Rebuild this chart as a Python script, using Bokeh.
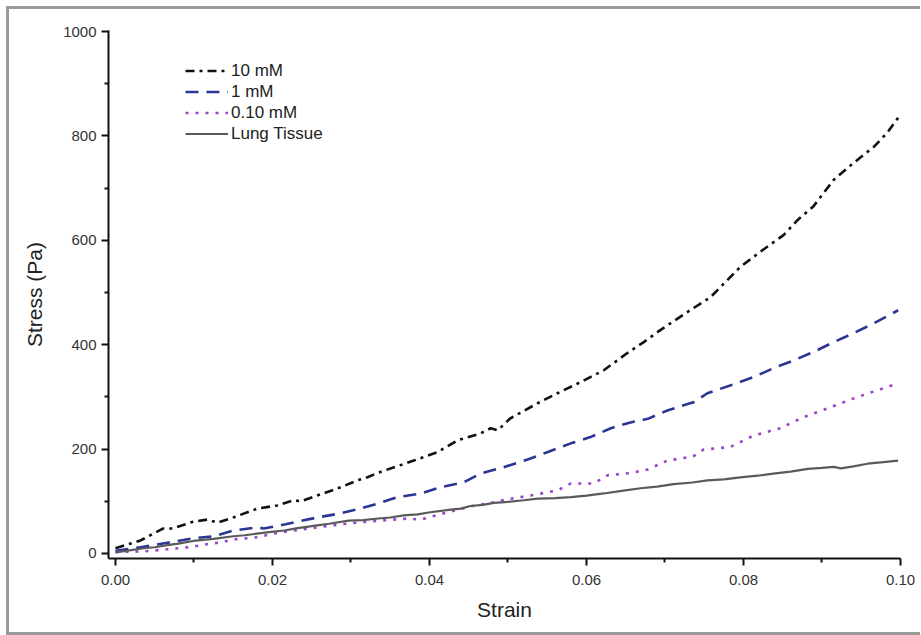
from bokeh.plotting import figure
from bokeh.models import Range1d, FixedTicker, Legend, LegendItem, NumeralTickFormatter
from bokeh.embed import file_html
from bokeh.resources import INLINE

# ---- data ----
strain_10mM = [0.0, 0.0032, 0.0061, 0.0073, 0.0099, 0.0117, 0.0130, 0.0150, 0.0181, 0.0206,
               0.0227, 0.0236, 0.0257, 0.0287, 0.0308, 0.0321, 0.0335, 0.0380, 0.0410, 0.0436,
               0.0465, 0.0478, 0.0487, 0.0503, 0.0538, 0.0563, 0.0592, 0.0622, 0.0652, 0.0673,
               0.0694, 0.0732, 0.0758, 0.0771, 0.0796, 0.0825, 0.0851, 0.0869, 0.0889, 0.0915,
               0.0940, 0.0966, 0.0983, 0.1000]
stress_10mM = [10, 25, 48, 48, 61, 65, 59, 69, 86, 92,
               102, 100, 111, 127, 140, 146, 155, 178, 194, 217,
               230, 240, 236, 259, 288, 307, 328, 351, 384, 405,
               428, 466, 491, 511, 549, 582, 610, 639, 665, 716,
               748, 779, 806, 841]

strain_1mM = [0.0, 0.0032, 0.0064, 0.0099, 0.0125, 0.0150, 0.0181, 0.0189, 0.0210, 0.0257,
              0.0287, 0.0312, 0.0335, 0.0359, 0.0389, 0.0414, 0.0443, 0.0465, 0.0494, 0.0525,
              0.0550, 0.0580, 0.0605, 0.0631, 0.0656, 0.0678, 0.0703, 0.0732, 0.0737, 0.0754,
              0.0783, 0.0813, 0.0838, 0.0864, 0.0889, 0.0915, 0.0940, 0.0966, 0.0997]
stress_1mM = [5, 12, 20, 29, 33, 44, 50, 48, 54, 69,
              77, 86, 96, 108, 115, 127, 136, 153, 165, 180,
              194, 211, 223, 240, 251, 258, 274, 288, 290, 307,
              322, 338, 355, 370, 386, 405, 422, 441, 466]

strain_010mM = [0.0, 0.0036, 0.0066, 0.0099, 0.0121, 0.0134, 0.0150, 0.0181, 0.0201, 0.0227,
                0.0257, 0.0287, 0.0312, 0.0338, 0.0372, 0.0389, 0.0418, 0.0452, 0.0482, 0.0499,
                0.0529, 0.0563, 0.0580, 0.0609, 0.0627, 0.0656, 0.0678, 0.0703, 0.0736, 0.0749,
                0.0783, 0.0813, 0.0847, 0.0876, 0.0907, 0.0940, 0.0971, 0.0997]
stress_010mM = [3, 4, 8, 13, 19, 21, 27, 31, 38, 44,
                50, 56, 60, 63, 67, 65, 77, 90, 98, 104,
                111, 121, 134, 134, 150, 154, 161, 178, 186, 199,
                204, 226, 240, 261, 278, 297, 313, 326]

strain_lung = [0.0, 0.0018, 0.0036, 0.0050, 0.0066, 0.0080, 0.0099, 0.0112, 0.0125, 0.0150,
               0.0165, 0.0180, 0.0201, 0.0215, 0.0230, 0.0257, 0.0272, 0.0297, 0.0315, 0.0335,
               0.0350, 0.0367, 0.0385, 0.0401, 0.0427, 0.0440, 0.0452, 0.0468, 0.0482, 0.0500,
               0.0520, 0.0538, 0.0560, 0.0580, 0.0600, 0.0622, 0.0645, 0.0669, 0.0690, 0.0711,
               0.0735, 0.0754, 0.0775, 0.0796, 0.0818, 0.0838, 0.0860, 0.0882, 0.0900, 0.0915,
               0.0924, 0.0940, 0.0958, 0.0978, 0.0997]
stress_lung = [2, 6, 10, 12, 16, 19, 24, 26, 28, 33,
               35, 38, 42, 44, 48, 54, 57, 63, 64, 67,
               69, 73, 75, 79, 84, 86, 91, 93, 97, 99,
               102, 105, 106, 108, 111, 115, 120, 125, 128, 133,
               136, 140, 142, 146, 149, 153, 157, 162, 164, 166,
               163, 167, 172, 175, 178]

x_major = [0.0, 0.02, 0.04, 0.06, 0.08, 0.10]
x_minor = [0.01, 0.03, 0.05, 0.07, 0.09]
y_major = [0, 200, 400, 600, 800, 1000]
y_minor = [100, 300, 500, 700, 900]

labels = ["10 mM", "1 mM", "0.10 mM", "Lung Tissue"]
colors = ["#111111", "#2b3594", "#9a45c8", "#5a5a5a"]

FONT = "Liberation Sans"
G = "#9b9b9b"

p = figure(width=911, height=623,
           x_range=Range1d(-0.00089, 0.1), y_range=Range1d(-9.6, 1002),
           output_backend="svg", toolbar_location=None,
           min_border_left=99, min_border_right=20, min_border_top=21, min_border_bottom=74,
           background_fill_color="white", border_fill_color="white")
# grey picture frame on top, left and bottom drawn as shadows (no effect on layout)
p.styles = {"margin-left": "9px", "margin-top": "9px",
            "box-shadow": f"-3px -3px 0 {G}, -3px 3px 0 {G}, 0 -3px 0 {G}, 0 3px 0 {G}"}
p.outline_line_color = None
p.grid.visible = False

r1 = p.line(strain_10mM, stress_10mM, line_color=colors[0], line_width=2.6, line_dash="9 5 3 5")
r2 = p.line(strain_1mM, stress_1mM, line_color=colors[1], line_width=2.6, line_dash="13 8")
r3 = p.line(strain_010mM, stress_010mM, line_color=colors[2], line_width=2.6, line_dash="3 7")
r4 = p.line(strain_lung, stress_lung, line_color=colors[3], line_width=2.2)

for ax in (p.xaxis[0], p.yaxis[0]):
    ax.axis_line_width = 2
    ax.axis_line_color = "#111111"
    ax.major_tick_line_width = 2
    ax.minor_tick_line_width = 2
    ax.major_tick_line_color = "#111111"
    ax.minor_tick_line_color = "#111111"
    ax.major_tick_in = 0
    ax.major_tick_out = 7
    ax.minor_tick_in = 0
    ax.minor_tick_out = 4
    ax.major_label_text_font = FONT
    ax.major_label_text_font_size = "15px"
    ax.major_label_text_color = "#333333"
    ax.axis_label_text_font = FONT
    ax.axis_label_text_font_size = "21px"
    ax.axis_label_text_font_style = "normal"
    ax.axis_label_text_color = "#222222"

p.xaxis.ticker = FixedTicker(ticks=x_major, minor_ticks=x_minor)
p.yaxis.ticker = FixedTicker(ticks=y_major, minor_ticks=y_minor)
p.xaxis.formatter = NumeralTickFormatter(format="0.00")
p.xaxis.axis_label = "Strain"
p.yaxis.axis_label = "Stress (Pa)"
p.xaxis.major_label_standoff = 9
p.yaxis.major_label_standoff = 5
p.xaxis.axis_label_standoff = 10
p.yaxis.axis_label_standoff = 14

legend = Legend(items=[LegendItem(label=labels[i], renderers=[r]) for i, r in enumerate([r1, r2, r3, r4])],
                location=(77, 414), orientation="vertical")
legend.border_line_color = None
legend.background_fill_alpha = 0
legend.padding = 0
legend.margin = 0
legend.spacing = 0
legend.glyph_width = 43
legend.glyph_height = 21
legend.label_height = 21
legend.label_standoff = 3
legend.label_text_font = FONT
legend.label_text_font_size = "17px"
legend.label_text_color = "#222222"
p.add_layout(legend, "center")

open("out.html", "w").write(file_html(p, INLINE))
